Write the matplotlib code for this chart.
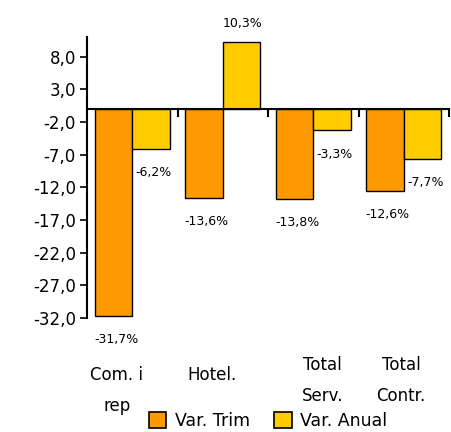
import numpy as np
import matplotlib
matplotlib.use("Agg")
import matplotlib.pyplot as plt
import matplotlib.transforms as mtransforms
from matplotlib.patches import Patch

categorias = ["Com. i\nrep", "Hotel.", "Total\nServ.", "Total\nContr."]
var_trim = [-31.7, -13.6, -13.8, -12.6]
var_anual = [-6.2, 10.3, -3.3, -7.7]
yticks = [8.0, 3.0, -2.0, -7.0, -12.0, -17.0, -22.0, -27.0, -32.0]
series = ["Var. Trim", "Var. Anual"]

naranja = "#FF9900"
amarillo = "#FFCC00"

def coma(v, dec=1):
	return ("{:.%df}" % dec).format(v).replace(".", ",")

plt.rcParams["font.family"] = ["DejaVu Sans"]

fig = plt.figure(figsize=(4.52, 4.32), dpi=100)
ax = fig.add_axes([0.1925, 0.2639, 0.8009, 0.6505])

x = np.arange(len(categorias))
ancho = 0.412
b1 = ax.bar(x - ancho / 2, var_trim, ancho, color=naranja, edgecolor="black", linewidth=1, zorder=2)
b2 = ax.bar(x + ancho / 2, var_anual, ancho, color=amarillo, edgecolor="black", linewidth=1, zorder=2)

for barras in (b1, b2):
	for r in barras:
		v = r.get_height()
		cx = r.get_x() + r.get_width() / 2
		if v < 0:
			ax.annotate(coma(v) + "%", (cx, v), xytext=(2, -17), textcoords="offset points",
						ha="center", va="center", fontsize=9)
		else:
			ax.annotate(coma(v) + "%", (cx, v), xytext=(1, 13), textcoords="offset points",
						ha="center", va="center", fontsize=9)

ax.set_xlim(-0.5, 3.5)
ax.set_ylim(-32, 11)
ax.set_yticks(yticks)
ax.set_yticklabels([coma(t) for t in yticks], fontsize=12)
ax.tick_params(axis="y", direction="out", length=5, width=1.2, pad=3)

ax.spines["top"].set_visible(False)
ax.spines["right"].set_visible(False)
ax.spines["left"].set_linewidth(1.5)
ax.spines["bottom"].set_position(("data", 0))
ax.spines["bottom"].set_linewidth(1.5)
ax.spines["bottom"].set_zorder(3)

ax.set_xticks([0.5, 1.5, 2.5, 3.5])
ax.set_xticklabels([])
ax.tick_params(axis="x", direction="out", length=6, width=1.5)

# etiquetas de categoria, colocadas como en la hoja original
trans = mtransforms.blended_transform_factory(ax.transData, ax.transAxes)
dx = [-0.17, -0.115, 0.10, -0.03]
ytop = [-0.17, -0.17, -0.135, -0.135]
for i, etiqueta in enumerate(categorias):
	ax.text(x[i] + dx[i], ytop[i], etiqueta, transform=trans, ha="center", va="top",
			fontsize=12, linespacing=1.95)

handles = [Patch(facecolor=naranja, edgecolor="black", linewidth=1.2),
		   Patch(facecolor=amarillo, edgecolor="black", linewidth=1.2)]
fig.legend(handles, series, loc="center", bbox_to_anchor=(268 / 452, 1 - 421 / 432),
		   ncol=2, frameon=False, fontsize=12.5, handlelength=1.0, handleheight=1.0,
		   handletextpad=0.5, columnspacing=1.4, borderaxespad=0, borderpad=0)

fig.savefig("out.png", dpi=100)
